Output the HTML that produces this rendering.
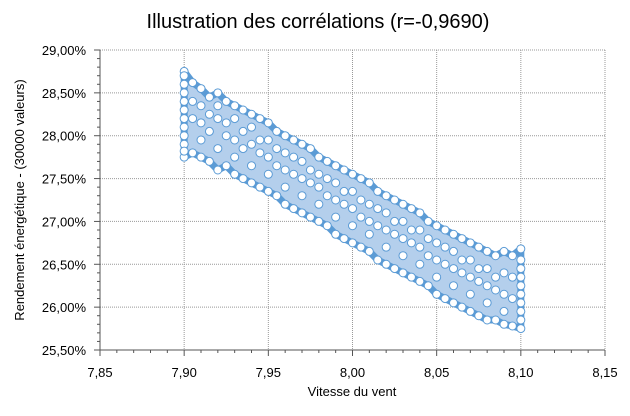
<!DOCTYPE html>
<html><head><meta charset="utf-8"><style>
body{margin:0;background:#fff;width:630px;height:411px;overflow:hidden}
svg text{font-family:"Liberation Sans",Tahoma,sans-serif;fill:#000}
</style></head><body>
<svg id="chart" width="630" height="411">
<text x="318" y="28" text-anchor="middle" font-size="20">Illustration des corrélations (r=-0,9690)</text>
<text transform="translate(24,200) rotate(-90)" text-anchor="middle" font-size="13">Rendement énergétique - (30000 valeurs)</text>
<text x="352" y="396" text-anchor="middle" font-size="13">Vitesse du vent</text>
<g id="grid"></g><g id="band"></g><g id="pts"></g><g id="axes"></g>
</svg>
<script>
const xTicks=[7.85,7.90,7.95,8.00,8.05,8.10,8.15];
const xTickLabels=["7,85","7,90","7,95","8,00","8,05","8,10","8,15"];
const yTicks=[25.5,26,26.5,27,27.5,28,28.5,29];
const yTickLabels=["25,50%","26,00%","26,50%","27,00%","27,50%","28,00%","28,50%","29,00%"];
const xGroups=[7.900,7.905,7.910,7.915,7.920,7.925,7.930,7.935,7.940,7.945,7.950,7.955,7.960,7.965,7.970,7.975,7.980,7.985,7.990,7.995,8.000,8.005,8.010,8.015,8.020,8.025,8.030,8.035,8.040,8.045,8.050,8.055,8.060,8.065,8.070,8.075,8.080,8.085,8.090,8.095,8.100];
const yGroups=[
[28.75,28.70,28.50,28.30,28.10,27.90,27.75,28.60,28.00,28.40,28.20,27.82],
[28.62,28.20,27.80,28.40],[28.55,28.15,27.75,28.35,27.95],[28.45,28.05,27.70,28.25],
[28.50,28.20,27.85,27.60,28.35],[28.40,28.00,27.65,28.15],[28.35,27.95,27.55,28.20,27.75],
[28.30,27.85,27.50,28.05],[28.25,27.90,27.45,28.10,27.65],[28.20,27.80,27.40,27.95],
[28.15,27.75,27.35,27.95,27.55],[28.05,27.65,27.30,27.85],[28.00,27.60,27.20,27.80,27.40],
[27.95,27.55,27.15,27.75],[27.90,27.50,27.10,27.70,27.30],[27.85,27.45,27.05,27.60],
[27.75,27.40,27.00,27.55,27.20],[27.70,27.30,26.95,27.50],[27.65,27.25,26.85,27.45,27.05],
[27.60,27.20,26.80,27.35],[27.55,27.15,26.75,27.35,26.95],[27.50,27.05,26.70,27.25],
[27.45,27.00,26.65,27.20,26.85],[27.35,26.95,26.55,27.15],[27.30,26.90,26.50,27.10,26.70],
[27.25,26.85,26.45,27.00],[27.20,26.80,26.40,27.00,26.60],[27.15,26.75,26.35,26.90],
[27.10,26.70,26.30,26.90,26.50],[27.00,26.60,26.25,26.80],[26.95,26.55,26.15,26.75,26.35],
[26.90,26.50,26.10,26.70],[26.85,26.45,26.05,26.65,26.25],[26.80,26.40,26.00,26.55],
[26.75,26.35,25.95,26.55,26.15],[26.70,26.30,25.90,26.45],[26.65,26.25,25.85,26.45,26.05],
[26.60,26.20,25.85,26.35],[26.65,26.15,25.80,26.40,25.95],[26.60,26.10,25.78,26.35],
[26.68,26.45,26.25,26.05,25.85,25.75,26.55,26.15,26.35,25.95]];
const X0=100,X1=605,Y0=350,Y1=50;
const sx=v=>X0+(v-7.85)/(8.15-7.85)*(X1-X0);
const sy=v=>Y0-(v-25.5)/(29-25.5)*(Y0-Y1);
const NS="http://www.w3.org/2000/svg";
function mk(t,a,p){const e=document.createElementNS(NS,t);for(const k in a)e.setAttribute(k,a[k]);p.appendChild(e);return e;}
const gridG=document.getElementById('grid'),axesG=document.getElementById('axes'),bandG=document.getElementById('band'),ptsG=document.getElementById('pts');
xTicks.forEach((v,i)=>{
 if(i>0){const l=mk('line',{x1:sx(v),x2:sx(v),y1:Y1,y2:Y0,stroke:'#999','stroke-dasharray':'1,1'},gridG);
 
 }
 const t=mk('text',{x:sx(v),y:377,'text-anchor':'middle','font-size':13},axesG);t.textContent=xTickLabels[i];
 
 
 mk('line',{x1:sx(v),x2:sx(v),y1:Y0,y2:Y0+6,stroke:'#555'},axesG);
 if(i<xTicks.length-1)for(let k=1;k<5;k++){const xx=sx(v+k*0.01);mk('line',{x1:xx,x2:xx,y1:Y0,y2:Y0+3,stroke:'#555'},axesG);}
});
yTicks.forEach((v,i)=>{
 if(i>0){const l=mk('line',{x1:X0,x2:X1,y1:sy(v),y2:sy(v),stroke:'#999','stroke-dasharray':'1,1'},gridG);
 
 }
 const t=mk('text',{x:86,y:sy(v)+5,'text-anchor':'end','font-size':13},axesG);t.textContent=yTickLabels[i];
 
 
 mk('line',{x1:X0-6,x2:X0,y1:sy(v),y2:sy(v),stroke:'#555'},axesG);
 if(i<yTicks.length-1)for(let k=1;k<5;k++){const yy=sy(v+k*0.1);mk('line',{x1:X0-3,x2:X0,y1:yy,y2:yy,stroke:'#555'},axesG);}
});
mk('line',{x1:X0,x2:X0,y1:Y1,y2:Y0,stroke:'#555'},axesG);
mk('line',{x1:X0,x2:X1,y1:Y0,y2:Y0,stroke:'#555'},axesG);
const bandTop=xGroups.map((x,i)=>sx(x)+','+sy(Math.max(...yGroups[i])));
const bandBot=xGroups.map((x,i)=>sx(x)+','+sy(Math.min(...yGroups[i]))).reverse();
const poly=mk('polygon',{points:bandTop.concat(bandBot).join(' '),fill:'#b4cfec',stroke:'#5b9bd5','stroke-width':7,'stroke-linejoin':'round'},bandG);


xGroups.forEach((x,i)=>yGroups[i].forEach(y=>{
 const c=mk('circle',{cx:sx(x),cy:sy(y),r:4,fill:'#fff',stroke:'#5b9bd5','stroke-width':1},ptsG);
 
 
}));
</script>
</body></html>
